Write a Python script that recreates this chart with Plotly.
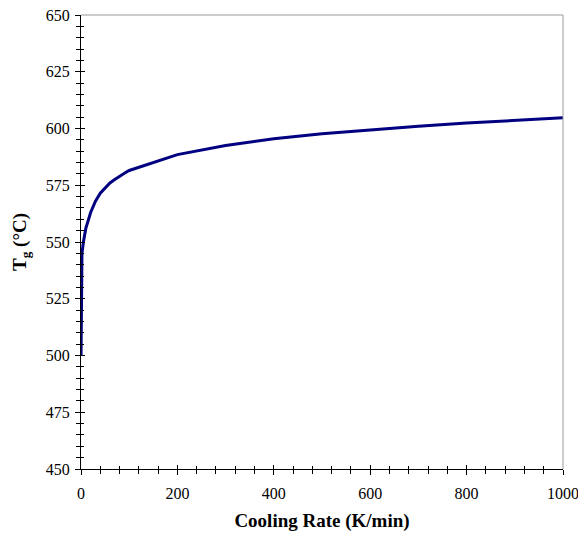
import plotly.graph_objects as go

cooling_rate = [0.1, 1, 2, 5, 10, 20, 30, 40, 50, 60, 70, 80, 90, 100,
                200, 300, 400, 500, 600, 700, 800, 900, 1000]
tg = [500, 540, 545, 550, 556, 563, 568, 571.5, 574, 576, 577.5, 579, 580.3, 581.5,
      588.5, 592.5, 595.5, 597.7, 599.5, 601, 602.4, 603.6, 604.7]

x_range = [0, 1000]
y_range = [450, 650]

font = "Liberation Serif, Times New Roman, serif"

fig = go.Figure()
fig.add_trace(go.Scatter(x=cooling_rate, y=tg, mode="lines",
                         line=dict(color="#000080", width=3), showlegend=False))
# helper trace for the overlay axes (inside half of crossing ticks)
fig.add_trace(go.Scatter(x=[None], y=[None], xaxis="x2", yaxis="y2",
                         showlegend=False, hoverinfo="skip"))

common_tick = dict(tickfont=dict(family=font, size=16, color="black"),
                   ticklabeloverflow="allow")

# page body has an 8px margin, so the figure is sized to fit inside the window
fig.update_layout(
    width=578, height=531,
    margin=dict(l=73, r=23, t=7, b=70),
    paper_bgcolor="white", plot_bgcolor="white",
    xaxis=dict(range=x_range, dtick=200, tick0=0, ticks="outside", ticklen=5,
               tickcolor="black", showline=True, linecolor="black", linewidth=1,
               showgrid=False, zeroline=False, automargin=False, ticklabelstandoff=5,
               minor=dict(dtick=40, ticks="outside", ticklen=4, tickcolor="black"),
               title=dict(text="<b>Cooling Rate (K/min)</b>",
                          font=dict(family=font, size=19, color="black"), standoff=12),
               **common_tick),
    yaxis=dict(range=y_range, dtick=25, tick0=450, ticks="outside", ticklen=5,
               tickcolor="black", showline=True, linecolor="black", linewidth=1,
               showgrid=False, zeroline=False, automargin=False, ticklabelstandoff=2,
               minor=dict(dtick=5, ticks="outside", ticklen=4, tickcolor="black"),
               title=dict(text="<b>T<sub>g</sub> (°C)</b>",
                          font=dict(family=font, size=19, color="black"), standoff=14),
               **common_tick),
    xaxis2=dict(range=x_range, overlaying="x", anchor="y2", dtick=200, tick0=0,
                ticks="inside", ticklen=4, tickcolor="black", showticklabels=False,
                showgrid=False, zeroline=False, showline=False, automargin=False,
                minor=dict(dtick=40, ticks="inside", ticklen=3, tickcolor="black")),
    yaxis2=dict(range=y_range, overlaying="y", anchor="x2", dtick=25, tick0=450,
                ticks="inside", ticklen=4, tickcolor="black", showticklabels=False,
                showgrid=False, zeroline=False, showline=False, automargin=False,
                minor=dict(dtick=5, ticks="inside", ticklen=3, tickcolor="black")),
    shapes=[
        dict(type="line", xref="paper", yref="paper", x0=0, x1=1, y0=1, y1=1,
             line=dict(color="#999999", width=1)),
        dict(type="line", xref="paper", yref="paper", x0=1, x1=1, y0=0, y1=1,
             line=dict(color="#999999", width=1)),
    ],
)

fig.write_html("out.html")
